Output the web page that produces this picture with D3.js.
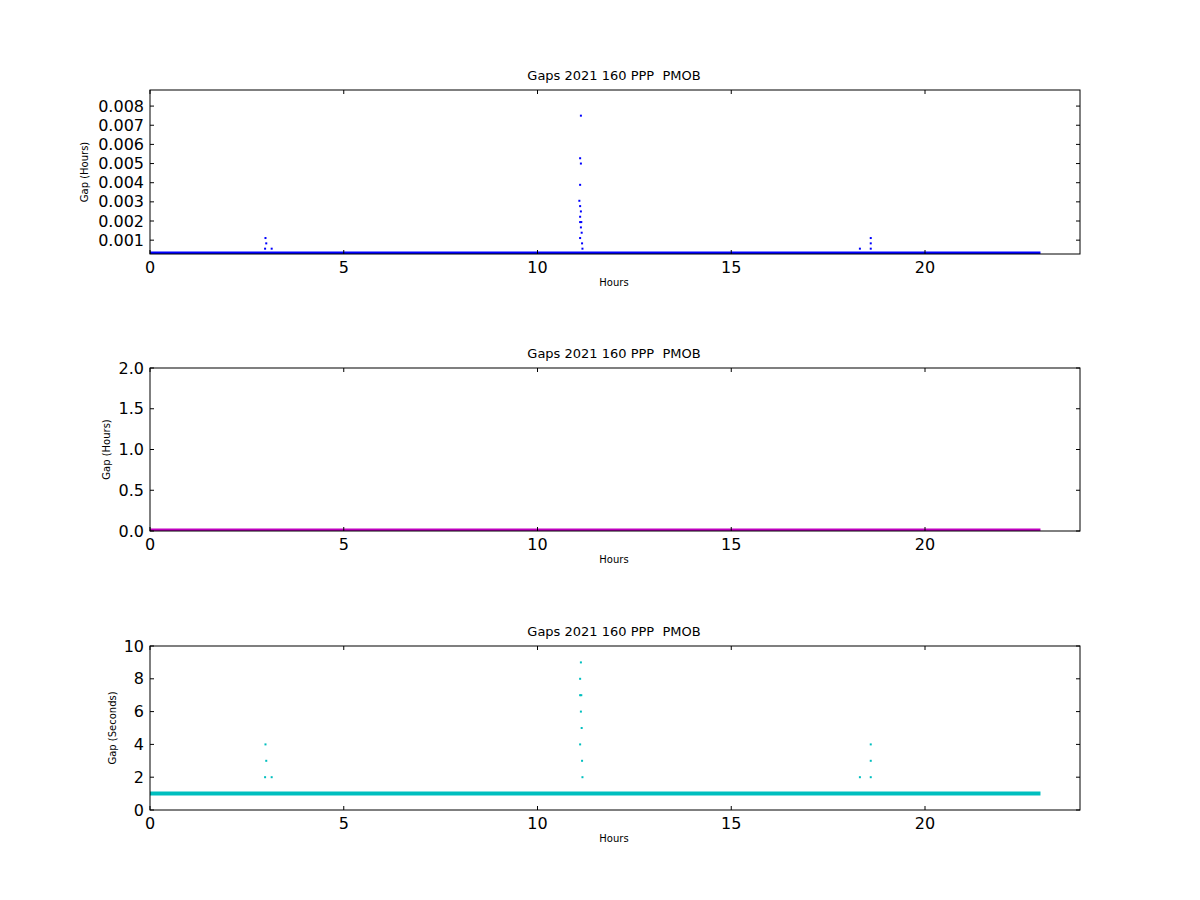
<!DOCTYPE html>
<html><head><meta charset="utf-8">
<script src="https://cdn.jsdelivr.net/npm/d3@7"></script>
<style>body{margin:0;background:#fff}text{font-family:"DejaVu Sans",sans-serif;white-space:pre}</style>
</head><body><svg id="c" width="1200" height="900"></svg>
<script>
// Gap events: [hour, gap seconds]
const spikeHours = [2.97, 3.0, 2.98, 3.14, 11.12, 11.1, 11.12, 11.1, 11.08, 11.1, 11.12, 11.1, 11.13, 11.1, 11.12, 11.14, 11.1, 11.15, 11.16, 18.32, 18.6, 18.6, 18.6];
const spikeSecs  = [2, 3, 4, 2, 27, 19, 18, 14, 11, 10, 9, 8, 7, 7, 6, 5, 4, 3, 2, 2, 2, 3, 4];
// continuous 1-second sampling from start to end of day
const baseline = { start: 0, end: 22.98, secs: 1 };
const xTicks = [0, 5, 10, 15, 20];
const topTicks = [0.001, 0.002, 0.003, 0.004, 0.005, 0.006, 0.007, 0.008];
const midTicks = [0, 0.5, 1.0, 1.5, 2.0];
const botTicks = [0, 2, 4, 6, 8, 10];

const svg = d3.select('#c');
const L = 150, R = 1080;
const x = d3.scaleLinear().domain([0, 24]).range([L, R]);

const panels = [
  { top: 90, bot: 254, domain: [1 / 3600, 0.00884], ticks: topTicks, fmt: d3.format('.3f'), label: 'Gap (Hours)', color: '#0000ff', conv: s => s / 3600, labelX: 88, band: 5 },
  { top: 368, bot: 531, domain: [0, 2], ticks: midTicks, fmt: d3.format('.1f'), label: 'Gap (Hours)', color: '#bf00bf', conv: s => 0, labelX: 110, band: 5 },
  { top: 646, bot: 810, domain: [0, 10], ticks: botTicks, fmt: d3.format('d'), label: 'Gap (Seconds)', color: '#00bfbf', conv: s => s, labelX: 116, band: 4 }
];

panels.forEach(p => {
  const y = d3.scaleLinear().domain(p.domain).range([p.bot, p.top]);
  const g = svg.append('g');
  const clip = 'clip' + p.top;
  svg.append('clipPath').attr('id', clip).append('rect')
    .attr('x', L).attr('y', p.top).attr('width', R - L).attr('height', p.bot - p.top);
  const marks = g.append('g').attr('clip-path', `url(#${clip})`);

  marks.append('line')
    .attr('x1', x(baseline.start)).attr('x2', x(baseline.end))
    .attr('y1', y(p.conv(baseline.secs))).attr('y2', y(p.conv(baseline.secs)))
    .attr('stroke', p.color).attr('stroke-width', p.band);

  const pts = spikeHours.map((h, i) => [h, p.conv(spikeSecs[i])]).filter(d => d[1] < p.domain[1]);
  marks.selectAll('rect.pt').data(pts).enter().append('rect')
    .attr('x', d => x(d[0]) - 1).attr('y', d => y(d[1]) - 1)
    .attr('width', 2).attr('height', 2).attr('fill', p.color);

  g.append('rect').attr('x', L).attr('y', p.top).attr('width', R - L).attr('height', p.bot - p.top)
    .attr('fill', 'none').attr('stroke', '#000').attr('stroke-width', 1);

  xTicks.forEach(t => {
    g.append('line').attr('x1', x(t)).attr('x2', x(t)).attr('y1', p.bot).attr('y2', p.bot - 4).attr('stroke', '#000');
    g.append('line').attr('x1', x(t)).attr('x2', x(t)).attr('y1', p.top).attr('y2', p.top + 4).attr('stroke', '#000');
    g.append('text').attr('x', x(t)).attr('y', p.bot + 19).attr('text-anchor', 'middle')
      .attr('font-size', 16).text(t);
  });
  p.ticks.forEach(t => {
    g.append('line').attr('x1', L).attr('x2', L + 4).attr('y1', y(t)).attr('y2', y(t)).attr('stroke', '#000');
    g.append('line').attr('x1', R).attr('x2', R - 4).attr('y1', y(t)).attr('y2', y(t)).attr('stroke', '#000');
    g.append('text').attr('x', L - 6).attr('y', y(t)).attr('dy', '0.35em').attr('text-anchor', 'end')
      .attr('font-size', 16).text(p.fmt(t));
  });

  g.append('text').attr('x', (L + R) / 2 - 1).attr('y', p.top - 10).attr('text-anchor', 'middle')
    .attr('font-size', 13).attr('xml:space', 'preserve').text('Gaps 2021 160 PPP  PMOB');
  g.append('text').attr('x', (L + R) / 2 - 1).attr('y', p.bot + 32).attr('text-anchor', 'middle')
    .attr('font-size', 10).text('Hours');
  g.append('text').attr('transform', `translate(${p.labelX},${(p.top + p.bot) / 2}) rotate(-90)`)
    .attr('text-anchor', 'middle').attr('font-size', 10).text(p.label);
});
</script></body></html>
